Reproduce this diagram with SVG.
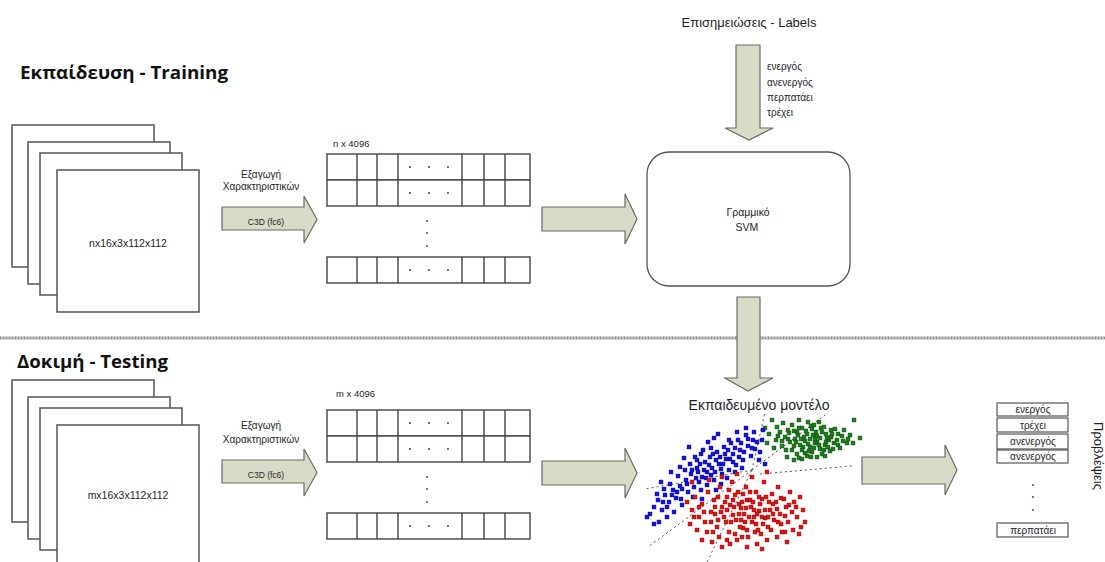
<svg xmlns="http://www.w3.org/2000/svg" width="1105" height="562" viewBox="0 0 1105 562">
  <style>
    .t { font-family: "Liberation Sans", "Noto Sans", sans-serif; fill: #1e1e2a; }
    .title { font-family: "Open Sans", "Liberation Sans", sans-serif; font-weight: bold; font-size: 18px; fill: #111; }
    .frame { fill: #fff; stroke: #555; stroke-width: 1.5; }
    .cell { fill: #fff; stroke: #444; stroke-width: 1.4; }
    .grid { stroke: #444; stroke-width: 1.4; }
    .arrow { fill: #d8dcc6; stroke: #6a6a6a; stroke-width: 1.2; }
    .dot { fill: #3a3a6a; }
    .sep { stroke: #555; stroke-width: 1; stroke-dasharray: 2 3; fill: none; }
    .outbox { fill: #fff; stroke: #555; stroke-width: 1.2; }
    .pt { stroke-width: 0.4; }
  </style>
  <defs>
    <!-- stacked clip frames -->
    <g id="frames">
      <rect class="frame" x="12" y="125" width="142" height="142"/>
      <rect class="frame" x="28" y="142" width="142" height="142"/>
      <rect class="frame" x="40" y="153" width="142" height="142"/>
      <rect class="frame" x="57" y="170" width="142" height="142"/>
    </g>
    <!-- one row of the feature matrix -->
    <g id="row">
      <rect class="cell" x="327" y="0" width="203" height="26"/>
      <path class="grid" d="M357 0v26M377 0v26M398 0v26M462 0v26M484 0v26M505 0v26"/>
      <circle class="dot" cx="410" cy="13" r="1"/>
      <circle class="dot" cx="429" cy="13" r="1"/>
      <circle class="dot" cx="448" cy="13" r="1"/>
    </g>
    <g id="matrix">
      <use href="#row" y="154"/>
      <use href="#row" y="180"/>
      <circle class="dot" cx="427" cy="221" r="0.9"/>
      <circle class="dot" cx="427" cy="233" r="0.9"/>
      <circle class="dot" cx="427" cy="246" r="0.9"/>
      <use href="#row" y="257"/>
    </g>
  </defs>

  <!-- section divider -->
  <line x1="0" y1="338" x2="1105" y2="338" stroke="#c4c4c4" stroke-width="3.5"/>
  <line x1="0" y1="338" x2="1105" y2="338" stroke="#8a8a8a" stroke-width="2" stroke-dasharray="1 2"/>

  <!-- section titles -->
  <text class="title" x="20" y="79" textLength="208" lengthAdjust="spacingAndGlyphs">Εκπαίδευση - Training</text>
  <text class="title" x="17" y="368" textLength="151" lengthAdjust="spacingAndGlyphs">Δοκιμή - Testing</text>

  <!-- training input clips -->
  <g id="train-clips">
    <use href="#frames"/>
    <text class="t" x="128" y="247" font-size="10.5" text-anchor="middle">nx16x3x112x112</text>
  </g>

  <!-- testing input clips -->
  <g id="test-clips">
    <use href="#frames" y="255"/>
    <text class="t" x="128" y="499" font-size="10.5" text-anchor="middle">mx16x3x112x112</text>
  </g>

  <!-- feature extraction, training -->
  <g id="train-c3d">
    <text class="t" x="261" y="178" font-size="10" text-anchor="middle">Εξαγωγή</text>
    <text class="t" x="261" y="190" font-size="10" text-anchor="middle">Χαρακτηριστικών</text>
    <polygon class="arrow" points="222,207 304,207 304,196 317,219.5 304,243 304,230 222,230"/>
    <text class="t" x="266" y="225" font-size="8.5" text-anchor="middle">C3D (fc6)</text>
  </g>

  <!-- feature extraction, testing -->
  <g id="test-c3d">
    <text class="t" x="261" y="429" font-size="10" text-anchor="middle">Εξαγωγή</text>
    <text class="t" x="261" y="443" font-size="10" text-anchor="middle">Χαρακτηριστικών</text>
    <polygon class="arrow" points="222,460 304,460 304,449 317,472.5 304,496 304,483 222,483"/>
    <text class="t" x="266" y="478" font-size="8.5" text-anchor="middle">C3D (fc6)</text>
  </g>

  <!-- feature matrices -->
  <g id="train-features">
    <text class="t" x="333" y="147" font-size="9.5">n x 4096</text>
    <use href="#matrix"/>
  </g>
  <g id="test-features">
    <text class="t" x="336" y="397" font-size="9.5">m x 4096</text>
    <use href="#matrix" y="256"/>
  </g>

  <!-- annotations -->
  <g id="labels">
    <text class="t" x="749" y="27" font-size="13" text-anchor="middle">Επισημειώσεις - Labels</text>
    <text class="t" x="767" y="70" font-size="10">ενεργός</text>
    <text class="t" x="767" y="86" font-size="10">ανενεργός</text>
    <text class="t" x="767" y="101" font-size="10">περπατάει</text>
    <text class="t" x="767" y="116" font-size="10">τρέχει</text>
  </g>

  <!-- linear SVM -->
  <g id="svm">
    <rect x="647" y="152" width="203" height="134" rx="22" ry="22" fill="#fff" stroke="#555" stroke-width="1.3"/>
    <text class="t" x="748" y="216" font-size="10.5" text-anchor="middle">Γραμμικό</text>
    <text class="t" x="747" y="231" font-size="10.5" text-anchor="middle">SVM</text>
  </g>

  <!-- trained model scatter -->
  <g id="model">
    <text class="t" x="759" y="410" font-size="14" text-anchor="middle" fill="#2a3550">Εκπαιδευμένο μοντέλο</text>
    <g class="sep">
      <path d="M752 470L765 412"/>
      <path d="M752 470L825 415"/>
      <path d="M760 474L852 466"/>
      <path d="M752 470L648 547"/>
      <path d="M752 470L707 562"/>
      <path d="M752 470L645 489"/>
    </g>
    <g class="pt" fill="#1e7d1e" stroke="#0f4f0f">
      <path d="M770 418h4v4h-4zM775 425h4v4h-4zM781 421h4v4h-4zM786 428h4v4h-4zM790 423h4v4h-4zM795 430h4v4h-4zM800 426h4v4h-4zM805 432h4v4h-4zM810 427h4v4h-4zM815 434h4v4h-4zM820 430h4v4h-4zM825 436h4v4h-4zM830 432h4v4h-4zM835 438h4v4h-4zM840 434h4v4h-4zM845 441h4v4h-4zM783 435h4v4h-4zM788 440h4v4h-4zM793 437h4v4h-4zM798 443h4v4h-4zM803 439h4v4h-4zM808 445h4v4h-4zM813 441h4v4h-4zM818 447h4v4h-4zM823 443h4v4h-4zM828 449h4v4h-4zM790 448h4v4h-4zM795 452h4v4h-4zM800 448h4v4h-4zM805 454h4v4h-4zM810 450h4v4h-4zM815 455h4v4h-4zM780 444h4v4h-4zM774 438h4v4h-4zM767 432h4v4h-4zM763 426h4v4h-4zM797 418h4v4h-4zM806 420h4v4h-4zM812 423h4v4h-4zM822 425h4v4h-4zM832 441h4v4h-4zM838 446h4v4h-4zM842 428h4v4h-4zM848 433h4v4h-4zM852 418h4v4h-4zM858 436h4v4h-4zM785 455h4v4h-4zM792 458h4v4h-4zM820 452h4v4h-4zM827 438h4v4h-4zM802 435h4v4h-4zM796 433h4v4h-4zM808 437h4v4h-4zM815 440h4v4h-4zM787 431h4v4h-4zM778 430h4v4h-4zM772 446h4v4h-4zM765 441h4v4h-4zM833 427h4v4h-4zM817 420h4v4h-4zM799 437h4v4h-4zM811 433h4v4h-4zM824 440h4v4h-4zM806 442h4v4h-4zM792 444h4v4h-4zM818 436h4v4h-4zM836 432h4v4h-4zM784 448h4v4h-4zM800 457h4v4h-4zM792 429h4v4h-4zM797 426h4v4h-4zM804 429h4v4h-4zM809 424h4v4h-4zM814 430h4v4h-4zM819 426h4v4h-4zM824 432h4v4h-4zM829 428h4v4h-4zM794 440h4v4h-4zM801 445h4v4h-4zM807 449h4v4h-4zM812 446h4v4h-4zM817 443h4v4h-4zM822 448h4v4h-4zM826 445h4v4h-4zM831 447h4v4h-4zM836 443h4v4h-4zM841 439h4v4h-4zM846 437h4v4h-4zM851 441h4v4h-4zM786 437h4v4h-4zM780 439h4v4h-4zM776 434h4v4h-4zM803 451h4v4h-4zM809 455h4v4h-4zM797 456h4v4h-4zM823 454h4v4h-4zM813 437h4v4h-4zM829 435h4v4h-4z"/>
    </g>
    <g class="pt" fill="#1414dc" stroke="#0a0a8a">
      <path d="M648 512h4v4h-4zM652 505h4v4h-4zM656 498h4v4h-4zM660 508h4v4h-4zM663 493h4v4h-4zM667 500h4v4h-4zM671 488h4v4h-4zM674 496h4v4h-4zM678 484h4v4h-4zM680 503h4v4h-4zM684 478h4v4h-4zM686 490h4v4h-4zM689 472h4v4h-4zM692 485h4v4h-4zM695 466h4v4h-4zM697 480h4v4h-4zM700 475h4v4h-4zM703 460h4v4h-4zM705 470h4v4h-4zM708 455h4v4h-4zM710 466h4v4h-4zM712 478h4v4h-4zM715 450h4v4h-4zM717 462h4v4h-4zM720 472h4v4h-4zM722 445h4v4h-4zM724 457h4v4h-4zM727 468h4v4h-4zM729 441h4v4h-4zM731 452h4v4h-4zM734 463h4v4h-4zM736 438h4v4h-4zM738 448h4v4h-4zM741 458h4v4h-4zM744 433h4v4h-4zM746 444h4v4h-4zM749 454h4v4h-4zM752 430h4v4h-4zM755 440h4v4h-4zM758 450h4v4h-4zM761 428h4v4h-4zM701 448h4v4h-4zM706 440h4v4h-4zM712 436h4v4h-4zM688 462h4v4h-4zM683 468h4v4h-4zM676 474h4v4h-4zM668 482h4v4h-4zM662 487h4v4h-4zM657 520h4v4h-4zM665 515h4v4h-4zM672 510h4v4h-4zM679 497h4v4h-4zM691 495h4v4h-4zM699 488h4v4h-4zM705 483h4v4h-4zM714 488h4v4h-4zM719 482h4v4h-4zM725 476h4v4h-4zM733 470h4v4h-4zM740 466h4v4h-4zM693 455h4v4h-4zM698 462h4v4h-4zM718 455h4v4h-4zM726 448h4v4h-4zM731 460h4v4h-4zM709 446h4v4h-4zM744 426h4v4h-4zM750 446h4v4h-4zM757 458h4v4h-4zM763 462h4v4h-4zM687 445h4v4h-4zM716 432h4v4h-4zM735 430h4v4h-4zM652 522h4v4h-4zM700 497h4v4h-4zM682 456h4v4h-4zM659 480h4v4h-4zM707 463h4v4h-4zM713 470h4v4h-4zM694 476h4v4h-4zM702 468h4v4h-4zM721 462h4v4h-4zM690 468h4v4h-4zM695 458h4v4h-4zM699 452h4v4h-4zM704 476h4v4h-4zM709 473h4v4h-4zM714 458h4v4h-4zM719 467h4v4h-4zM723 452h4v4h-4zM728 457h4v4h-4zM733 446h4v4h-4zM737 455h4v4h-4zM742 450h4v4h-4zM746 437h4v4h-4zM751 438h4v4h-4zM680 487h4v4h-4zM675 490h4v4h-4zM670 493h4v4h-4zM665 505h4v4h-4zM685 482h4v4h-4zM696 470h4v4h-4zM711 452h4v4h-4zM727 438h4v4h-4zM739 441h4v4h-4zM753 447h4v4h-4zM760 438h4v4h-4zM645 515h4v4h-4zM655 492h4v4h-4zM661 500h4v4h-4zM669 470h4v4h-4zM678 465h4v4h-4z"/>
    </g>
    <g class="pt" fill="#e01414" stroke="#8a0a0a">
      <path d="M685 500h4v4h-4zM690 508h4v4h-4zM693 495h4v4h-4zM697 515h4v4h-4zM700 502h4v4h-4zM703 520h4v4h-4zM706 490h4v4h-4zM709 510h4v4h-4zM712 498h4v4h-4zM715 525h4v4h-4zM718 485h4v4h-4zM720 505h4v4h-4zM722 515h4v4h-4zM725 495h4v4h-4zM727 530h4v4h-4zM730 480h4v4h-4zM732 505h4v4h-4zM734 518h4v4h-4zM736 490h4v4h-4zM738 525h4v4h-4zM740 500h4v4h-4zM742 512h4v4h-4zM744 485h4v4h-4zM746 535h4v4h-4zM748 498h4v4h-4zM750 520h4v4h-4zM752 508h4v4h-4zM754 490h4v4h-4zM756 528h4v4h-4zM758 502h4v4h-4zM760 515h4v4h-4zM762 480h4v4h-4zM764 495h4v4h-4zM766 525h4v4h-4zM768 508h4v4h-4zM770 492h4v4h-4zM772 518h4v4h-4zM774 500h4v4h-4zM776 485h4v4h-4zM778 512h4v4h-4zM780 530h4v4h-4zM782 497h4v4h-4zM784 505h4v4h-4zM786 520h4v4h-4zM788 490h4v4h-4zM790 510h4v4h-4zM792 500h4v4h-4zM795 515h4v4h-4zM798 495h4v4h-4zM801 508h4v4h-4zM695 528h4v4h-4zM700 538h4v4h-4zM710 540h4v4h-4zM720 545h4v4h-4zM728 542h4v4h-4zM735 538h4v4h-4zM745 545h4v4h-4zM755 542h4v4h-4zM765 538h4v4h-4zM775 535h4v4h-4zM785 540h4v4h-4zM720 475h4v4h-4zM735 472h4v4h-4zM750 475h4v4h-4zM765 470h4v4h-4zM725 508h4v4h-4zM731 498h4v4h-4zM737 512h4v4h-4zM743 520h4v4h-4zM749 505h4v4h-4zM741 492h4v4h-4zM757 495h4v4h-4zM729 520h4v4h-4zM713 512h4v4h-4zM705 530h4v4h-4zM717 535h4v4h-4zM759 532h4v4h-4zM769 528h4v4h-4zM779 522h4v4h-4zM688 522h4v4h-4zM727 488h4v4h-4zM753 530h4v4h-4zM763 508h4v4h-4zM745 528h4v4h-4zM733 532h4v4h-4zM791 528h4v4h-4zM797 532h4v4h-4zM803 520h4v4h-4zM690 480h4v4h-4zM707 478h4v4h-4zM739 506h4v4h-4zM747 515h4v4h-4zM755 512h4v4h-4zM731 513h4v4h-4zM723 500h4v4h-4zM761 522h4v4h-4zM771 502h4v4h-4zM716 518h4v4h-4zM716 495h4v4h-4zM719 510h4v4h-4zM724 520h4v4h-4zM728 503h4v4h-4zM733 493h4v4h-4zM737 502h4v4h-4zM741 526h4v4h-4zM744 506h4v4h-4zM748 490h4v4h-4zM751 500h4v4h-4zM754 522h4v4h-4zM757 509h4v4h-4zM760 497h4v4h-4zM763 516h4v4h-4zM767 500h4v4h-4zM771 512h4v4h-4zM775 507h4v4h-4zM779 496h4v4h-4zM783 514h4v4h-4zM787 503h4v4h-4zM713 505h4v4h-4zM709 520h4v4h-4zM702 510h4v4h-4zM697 505h4v4h-4zM692 515h4v4h-4zM739 518h4v4h-4zM745 498h4v4h-4zM752 515h4v4h-4zM766 515h4v4h-4zM776 520h4v4h-4zM794 505h4v4h-4zM799 525h4v4h-4zM711 530h4v4h-4zM725 538h4v4h-4zM740 535h4v4h-4zM760 547h4v4h-4zM783 530h4v4h-4z"/>
    </g>
  </g>

  <!-- predictions -->
  <g id="predictions">
    <g class="outbox">
      <rect x="997" y="403" width="71" height="13"/>
      <rect x="997" y="418" width="71" height="14"/>
      <rect x="997" y="434" width="71" height="15"/>
      <rect x="997" y="450" width="71" height="13"/>
      <rect x="997" y="523" width="71" height="14"/>
    </g>
    <text class="t" x="1033" y="413" font-size="10" text-anchor="middle">ενεργός</text>
    <text class="t" x="1033" y="429" font-size="10" text-anchor="middle">τρέχει</text>
    <text class="t" x="1033" y="445" font-size="10" text-anchor="middle">ανενεργός</text>
    <text class="t" x="1033" y="460" font-size="10" text-anchor="middle">ανενεργός</text>
    <circle class="dot" cx="1033" cy="485" r="0.9"/>
    <circle class="dot" cx="1033" cy="497" r="0.9"/>
    <circle class="dot" cx="1033" cy="510" r="0.9"/>
    <text class="t" x="1033" y="534" font-size="10" text-anchor="middle">περπατάει</text>
    <text class="t" font-size="13" transform="translate(1094 422) rotate(90)">Προβλέψεις</text>
  </g>

  <!-- connectors -->
  <g id="connectors">
    <polygon class="arrow" points="542,207 625,207 625,194 637,219 625,244 625,231 542,231"/>
    <polygon class="arrow" points="542,461 625,461 625,448 637,473 625,498 625,485 542,485"/>
    <polygon class="arrow" points="736,45 760,45 760,128 773,128 749,140 725,128 736,128"/>
    <polygon class="arrow" points="737,297 760,297 760,378 773,378 748,391 725,378 737,378"/>
    <polygon class="arrow" points="862,457 945,457 945,445 957,470 945,495 945,484 862,484"/>
  </g>
</svg>
